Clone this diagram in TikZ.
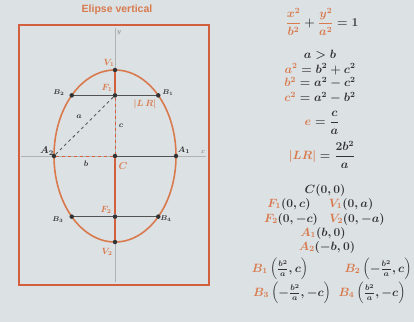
\documentclass[tikz,border=0pt]{standalone}
\usepackage{amsmath}
\usepackage{fontspec}
\newfontfamily\titulo{Liberation Sans}
\definecolor{naranja}{HTML}{D87A4E}
\definecolor{marco}{HTML}{D35F3F}
\definecolor{tinta}{HTML}{333333}
\definecolor{fondo}{HTML}{DCE1E4}
\newcommand{\nar}[1]{\textcolor{naranja}{#1}}

\begin{document}
\begin{tikzpicture}[x=1pt,y=-1pt,
	punto/.style={circle,fill=tinta,inner sep=0pt,minimum size=4.5pt},
	formula/.style={font=\fontsize{11.5}{13}\selectfont\boldmath,text=tinta,inner sep=0pt},
	etiqueta/.style={font=\footnotesize\boldmath,text=tinta,inner sep=1pt},
	eje/.style={gray!60,line width=0.5pt},
	cuerda/.style={tinta!85,line width=0.9pt},
	trazo/.style={dashed,line width=0.9pt}]
		%background
		\fill[fondo] (0,0) rectangle (414,322);
		\useasboundingbox (0,0) rectangle (414,322);
		\pgfmathsetmacro{\semia}{86}
		\pgfmathsetmacro{\semib}{61}
		\pgfmathsetmacro{\foco}{sqrt(\semia^2-\semib^2)}
		\pgfmathsetmacro{\lado}{\semib^2/\semia}
		%draw title and frame
		\node[font=\titulo\bfseries\fontsize{10.5}{12}\selectfont,text=naranja] (titulo) at (117,10) {Elipse vertical};
		\draw[marco,line width=1.4pt] (19,25) rectangle (209,285);
		%draw axes
		\coordinate (ejeyA) at (115,28);
		\coordinate (ejeyB) at (115,282);
		\coordinate (ejexA) at (21,156);
		\coordinate (ejexB) at (206,156);
		\draw[eje] (ejeyA) -- (ejeyB);
		\draw[eje] (ejexA) -- (ejexB);
		\node[etiqueta,text=gray,font=\scriptsize] (ly) at (119,33) {$y$};
		\node[etiqueta,text=gray,font=\scriptsize] (lx) at (203,152) {$x$};
		%draw ellipse
		\draw[naranja,line width=1.6pt] (115,156) ellipse [x radius=\semib, y radius=\semia];
		%draw points
		\node[punto] (C) at (115,156) {};
		\node[punto] (V1) at (115,{156-\semia}) {};
		\node[punto] (V2) at (115,{156+\semia}) {};
		\node[punto] (F1) at (115,{156-\foco}) {};
		\node[punto] (F2) at (115,{156+\foco}) {};
		\node[punto] (A1) at ({115+\semib},156) {};
		\node[punto] (A2) at ({115-\semib},156) {};
		\node[punto] (B1) at ({115+\lado},{156-\foco}) {};
		\node[punto] (B2) at ({115-\lado},{156-\foco}) {};
		\node[punto] (B3) at ({115-\lado},{156+\foco}) {};
		\node[punto] (B4) at ({115+\lado},{156+\foco}) {};
		%draw segments
		\draw[cuerda] (B2) -- (F1) -- (B1);
		\draw[cuerda] (B3) -- (F2) -- (B4);
		\draw[cuerda] (C) -- (A1);
		\draw[marco,line width=1.1pt] (V1) -- (F1);
		\draw[marco,line width=1.1pt] (C) -- (F2) -- (V2);
		\draw[trazo,marco] (F1) -- (C);
		\draw[trazo,marco] (A2) -- (C);
		\draw[trazo,tinta!80] (A2) -- (F1);
		%draw labels
		\node[etiqueta,text=naranja,font=\small\boldmath] (lV1) at (109,63) {$V_1$};
		\node[etiqueta,text=naranja,font=\small\boldmath] (lF1) at (107,88) {$F_1$};
		\node[etiqueta,font=\scriptsize\boldmath] (lB2) at (59,93) {$B_2$};
		\node[etiqueta,font=\scriptsize\boldmath] (lB1) at (168,93) {$B_1$};
		\node[etiqueta,text=naranja,font=\small\boldmath] (lLR) at (145,104) {$|L\,R|$};
		\node[etiqueta] (la) at (79,117) {$a$};
		\node[etiqueta] (lc) at (121,126) {$c$};
		\node[etiqueta,font=\normalsize\boldmath] (lA2) at (47,151) {$A_2$};
		\node[etiqueta] (lA1) at (184,150) {$A_1$};
		\node[etiqueta] (lb) at (86,164) {$b$};
		\node[etiqueta,text=naranja,font=\normalsize\boldmath] (lC) at (123,166) {$C$};
		\node[etiqueta,text=naranja,font=\small\boldmath] (lF2) at (106,210) {$F_2$};
		\node[etiqueta,font=\scriptsize\boldmath] (lB3) at (58,220) {$B_3$};
		\node[etiqueta,font=\scriptsize\boldmath] (lB4) at (166,219) {$B_4$};
		\node[etiqueta,text=naranja,font=\small\boldmath] (lV2) at (107,252) {$V_2$};
		%draw formulas
		\node[formula] (ecuacion) at (322,22) {$\nar{\dfrac{x^2}{b^2}}+\nar{\dfrac{y^2}{a^2}}=1$};
		\node[formula] (f1) at (320,55) {$a>b$};
		\node[formula] (f2) at (320,69) {$\nar{a^2}=b^2+c^2$};
		\node[formula] (f3) at (320,83) {$\nar{b^2}=a^2-c^2$};
		\node[formula] (f4) at (320,98) {$\nar{c^2}=a^2-b^2$};
		\node[formula] (f5) at (322,123) {$\nar{e}=\dfrac{c}{a}$};
		\node[formula] (f6) at (322,155) {$\nar{|LR|}=\dfrac{2b^2}{a}$};
		\node[formula] (f7) at (325,190) {$C(0,0)$};
		\node[formula] (f8) at (289,204) {$\nar{F_1}(0,c)$};
		\node[formula] (f9) at (351,204) {$\nar{V_1}(0,a)$};
		\node[formula] (f10) at (291,219) {$\nar{F_2}(0,-c)$};
		\node[formula] (f11) at (357,219) {$\nar{V_2}(0,-a)$};
		\node[formula] (f12) at (323,233) {$\nar{A_1}(b,0)$};
		\node[formula] (f13) at (327,247) {$\nar{A_2}(-b,0)$};
		\node[formula] (f14) at (280,269) {$\nar{B_1}\left(\frac{b^2}{a},c\right)$};
		\node[formula] (f15) at (378,269) {$\nar{B_2}\left(-\frac{b^2}{a},c\right)$};
		\node[formula] (f16) at (292,293) {$\nar{B_3}\left(-\frac{b^2}{a},-c\right)$};
		\node[formula] (f17) at (372,293) {$\nar{B_4}\left(\frac{b^2}{a},-c\right)$};
\end{tikzpicture}
\end{document}
